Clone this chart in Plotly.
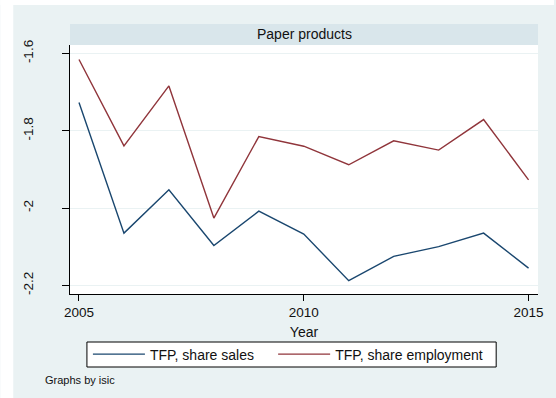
import plotly.graph_objects as go

years = [2005, 2006, 2007, 2008, 2009, 2010, 2011, 2012, 2013, 2014, 2015]
tfp_sales = [-1.727, -2.065, -1.953, -2.097, -2.008, -2.0675, -2.188, -2.125, -2.100, -2.065, -2.1555]
tfp_employment = [-1.6156, -1.839, -1.684, -2.026, -1.815, -1.840, -1.888, -1.826, -1.850, -1.771, -1.927]
y_ticks = [-1.6, -1.8, -2.0, -2.2]
y_tick_labels = ["-1.6", "-1.8", "-2", "-2.2"]
x_ticks = [2005, 2010, 2015]
panel_title = "Paper products"

W, H = 556, 398
L, R, T, B = 70, 540, 45, 294  # plot area in pixels
pw, ph = R - L, B - T


def px(x):
    return (x - L) / pw


def py(y):
    return (B - y) / ph


FONT = "Liberation Sans, Arial, Helvetica, sans-serif"
BG = "#EAF2F3"
STRIP = "#D9E6EB"
NAVY = "#1a476f"
MAROON = "#90353b"

fig = go.Figure()
fig.add_trace(go.Scatter(x=years, y=tfp_sales, mode="lines", name="TFP, share sales",
                         line=dict(color=NAVY, width=1.4), legend="legend"))
fig.add_trace(go.Scatter(x=years, y=tfp_employment, mode="lines", name="TFP, share employment",
                         line=dict(color=MAROON, width=1.4), legend="legend2"))

# legend frame (pixels)
LG_X0, LG_X1, LG_Y0, LG_Y1 = 87, 498, 342, 367

shapes = [
    # white edges around the graph region
    dict(type="rect", xref="paper", yref="paper", x0=px(0), x1=px(13), y0=py(H), y1=py(0),
         fillcolor="white", line=dict(width=0), layer="below"),
    dict(type="rect", xref="paper", yref="paper", x0=px(0), x1=px(W), y0=py(5), y1=py(0),
         fillcolor="white", line=dict(width=0), layer="below"),
    # panel title strip
    dict(type="rect", xref="paper", yref="paper", x0=0, x1=1, y0=1, y1=py(24),
         fillcolor=STRIP, line=dict(width=0)),
    # legend frame
    dict(type="rect", xref="paper", yref="paper", x0=px(LG_X0), x1=px(LG_X1),
         y0=py(LG_Y1), y1=py(LG_Y0), fillcolor="white", line=dict(color="black", width=1),
         layer="below"),
]

annotations = [
    dict(text=panel_title, xref="paper", yref="paper", x=0.5, y=py(34.5), showarrow=False,
         font=dict(family=FONT, size=14, color="#111"), xanchor="center", yanchor="middle"),
    dict(text="Graphs by isic", xref="paper", yref="paper", x=px(43), y=py(380), showarrow=False,
         font=dict(family=FONT, size=11, color="#111"), xanchor="left", yanchor="middle"),
]

legend_style = dict(orientation="h", xanchor="left", yanchor="middle",
                    y=py((LG_Y0 + LG_Y1) / 2), bgcolor="rgba(0,0,0,0)", borderwidth=0,
                    font=dict(family=FONT, size=14, color="#111"),
                    itemwidth=52, itemclick=False)

fig.update_layout(
    width=W, height=H,
    margin=dict(l=L, r=W - R, t=T, b=H - B, pad=0),
    paper_bgcolor=BG, plot_bgcolor="white",
    font=dict(family=FONT, size=13.5, color="#111"),
    shapes=shapes, annotations=annotations,
    showlegend=True,
    legend=dict(x=px(88), **legend_style),
    legend2=dict(x=px(274), **legend_style),
)

fig.update_xaxes(
    range=[2004.80, 2015.21], tickvals=x_ticks, ticks="outside", ticklen=6, tickcolor="black",
    showline=True, linecolor="black", linewidth=1, showgrid=False, zeroline=False,
    title=dict(text="Year", font=dict(family=FONT, size=14), standoff=7),
    tickfont=dict(family=FONT, size=13.5),
)
fig.update_yaxes(
    range=[-2.2226, -1.578], tickvals=y_ticks, ticktext=y_tick_labels, ticks="outside",
    ticklen=7, tickcolor="black", tickangle=-90, ticklabelstandoff=24,
    showline=True, linecolor="black", linewidth=1, showgrid=True, gridcolor=BG, gridwidth=1,
    zeroline=False, tickfont=dict(family=FONT, size=13.5),
)

fig.write_html("out.html")
